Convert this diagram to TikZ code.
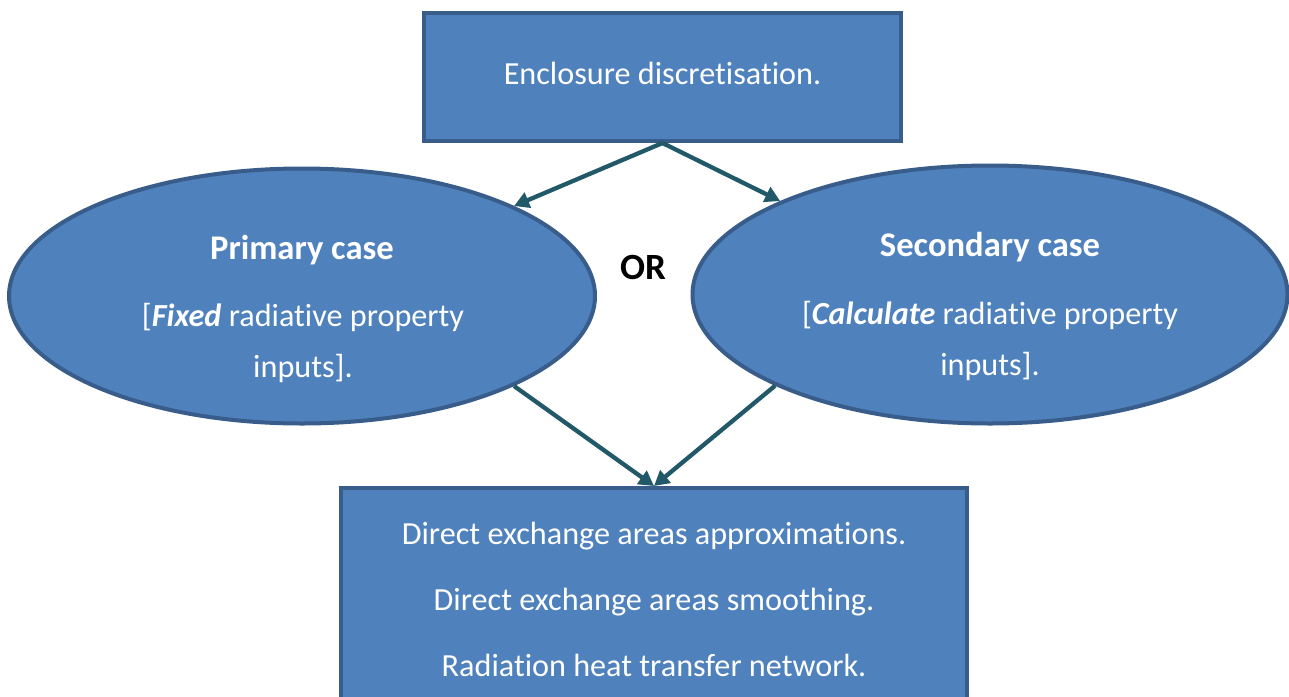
\documentclass[tikz,border=0pt]{standalone}
\usepackage{fontspec}
\setmainfont{Carlito}[RawFeature={-liga;-clig;-dlig;-calt;-rlig;-hlig}]
\usetikzlibrary{arrows.meta,shapes.geometric}
\definecolor{boxfill}{HTML}{4F81BD}
\definecolor{boxline}{HTML}{385D8A}
\definecolor{arrowcol}{HTML}{215968}
\begin{document}
\begin{tikzpicture}[x=1pt,y=-1pt,
  shapebox/.style={draw=boxline, fill=boxfill, line width=4pt, inner sep=0pt},
  oval/.style={shapebox, ellipse},
  lbl/.style={text=white, font=\fontsize{32.2}{38}\selectfont, anchor=base, inner sep=0pt},
  ttl/.style={lbl, font=\fontsize{34.6}{40}\selectfont\bfseries},
  conn/.style={draw=arrowcol, line width=4.3pt, -{Triangle[length=15pt,width=16pt]}}]
\useasboundingbox (0,0) rectangle (1289,696);
\clip (0,0) rectangle (1289,696);
\fill[white] (0,0) rectangle (1289,696);
\node[shapebox, minimum width=477pt, minimum height=128pt] (top) at (662.5,77) {};
\node[oval, minimum width=586pt, minimum height=255pt] (left) at (302,296) {};
\node[oval, minimum width=595pt, minimum height=258pt] (right) at (990,294.5) {};
\node[shapebox, minimum width=626pt, minimum height=240pt] (bottom) at (654,608) {};
% texts
\node[lbl] (ttop) at (662.5,84) {Enclosure discretisation.};
\node[ttl] (tl1) at (302,259) {Primary case};
\node[lbl] (tl2) at (303,326) {[\textbf{\textit{Fixed}} radiative property};
\node[lbl] (tl3) at (303,377) {inputs].};
\node[ttl, text=black, font=\fontsize{37}{42}\selectfont\bfseries] (tor) at (643,279) {OR};
\node[ttl] (tr1) at (990,256) {Secondary case};
\node[lbl] (tr2) at (990,324) {[\textbf{\textit{Calculate}} radiative property};
\node[lbl] (tr3) at (990,375) {inputs].};
\node[lbl] (tb1) at (654,544) {Direct exchange areas approximations.};
\node[lbl] (tb2) at (654,610) {Direct exchange areas smoothing.};
\node[lbl] (tb3) at (654,676) {Radiation heat transfer network.};
% connectors
\draw[conn] (top.south) -- (left.23.4);
\draw[conn] (top.south) -- (right.156.6);
\draw[conn] (left.-23.6) -- (bottom.north);
\draw[conn] (right.203.8) -- (bottom.north);
\end{tikzpicture}
\end{document}
